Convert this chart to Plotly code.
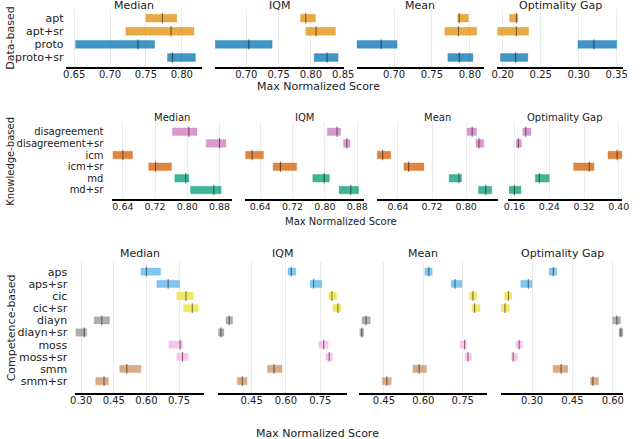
import plotly.graph_objects as go

# ---- data -------------------------------------------------------------
metrics = ["Median", "IQM", "Mean", "Optimality Gap"]
axis_title = "Max Normalized Score"

# Data-based
data_methods = ["apt", "apt+sr", "proto", "proto+sr"]
data_colors = ["#DE8F05", "#DE8F05", "#0173B2", "#0173B2"]
data_median_lo = [0.750, 0.722, 0.652, 0.780]
data_median_pt = [0.773, 0.785, 0.739, 0.787]
data_median_hi = [0.793, 0.817, 0.762, 0.819]
data_iqm_lo = [0.784, 0.792, 0.652, 0.805]
data_iqm_pt = [0.792, 0.808, 0.704, 0.825]
data_iqm_hi = [0.807, 0.838, 0.740, 0.842]
data_mean_lo = [0.784, 0.767, 0.651, 0.771]
data_mean_pt = [0.786, 0.785, 0.683, 0.786]
data_mean_hi = [0.798, 0.809, 0.704, 0.804]
data_gap_lo = [0.209, 0.193, 0.299, 0.197]
data_gap_pt = [0.218, 0.218, 0.320, 0.217]
data_gap_hi = [0.220, 0.234, 0.350, 0.233]
data_ticks = [[0.65, 0.70, 0.75, 0.80], [0.70, 0.75, 0.80, 0.85],
              [0.70, 0.75, 0.80], [0.20, 0.25, 0.30, 0.35]]

# Knowledge-based
know_methods = ["disagreement", "disagreement+sr", "icm", "icm+sr", "md", "md+sr"]
know_colors = ["#CC78BC", "#CC78BC", "#D55E00", "#D55E00", "#029E73", "#029E73"]
know_median_lo = [0.763, 0.847, 0.615, 0.704, 0.769, 0.808]
know_median_pt = [0.804, 0.880, 0.640, 0.721, 0.796, 0.866]
know_median_hi = [0.824, 0.896, 0.664, 0.761, 0.804, 0.884]
know_iqm_lo = [0.806, 0.846, 0.603, 0.672, 0.770, 0.835]
know_iqm_pt = [0.830, 0.854, 0.620, 0.690, 0.798, 0.864]
know_iqm_hi = [0.839, 0.862, 0.648, 0.730, 0.811, 0.883]
know_mean_lo = [0.802, 0.823, 0.591, 0.654, 0.760, 0.829]
know_mean_pt = [0.814, 0.830, 0.604, 0.665, 0.783, 0.846]
know_mean_hi = [0.824, 0.841, 0.623, 0.701, 0.789, 0.860]
know_gap_lo = [0.179, 0.164, 0.375, 0.296, 0.208, 0.148]
know_gap_pt = [0.186, 0.169, 0.396, 0.332, 0.217, 0.160]
know_gap_hi = [0.198, 0.176, 0.408, 0.343, 0.240, 0.175]
know_ticks = [[0.64, 0.72, 0.80, 0.88], [0.64, 0.72, 0.80, 0.88],
              [0.64, 0.72, 0.80], [0.16, 0.24, 0.32, 0.40]]

# Competence-based
comp_methods = ["aps", "aps+sr", "cic", "cic+sr", "diayn", "diayn+sr",
                "moss", "moss+sr", "smm", "smm+sr"]
comp_colors = ["#56B4E9", "#56B4E9", "#ECE133", "#ECE133", "#949494", "#949494",
               "#FBAFE4", "#FBAFE4", "#CA9161", "#CA9161"]
comp_median_lo = [0.575, 0.648, 0.740, 0.770, 0.360, 0.275, 0.703, 0.740, 0.477, 0.367]
comp_median_pt = [0.600, 0.700, 0.782, 0.811, 0.395, 0.314, 0.755, 0.766, 0.510, 0.405]
comp_median_hi = [0.665, 0.753, 0.815, 0.838, 0.430, 0.325, 0.766, 0.792, 0.575, 0.425]
comp_iqm_lo = [0.609, 0.706, 0.787, 0.805, 0.338, 0.305, 0.744, 0.775, 0.519, 0.387]
comp_iqm_pt = [0.623, 0.721, 0.801, 0.827, 0.352, 0.316, 0.765, 0.789, 0.548, 0.409]
comp_iqm_hi = [0.643, 0.757, 0.822, 0.841, 0.367, 0.329, 0.785, 0.803, 0.583, 0.430]
comp_mean_lo = [0.606, 0.706, 0.775, 0.785, 0.367, 0.357, 0.740, 0.759, 0.560, 0.444]
comp_mean_pt = [0.621, 0.721, 0.789, 0.795, 0.382, 0.366, 0.757, 0.770, 0.584, 0.461]
comp_mean_hi = [0.634, 0.747, 0.803, 0.816, 0.398, 0.373, 0.765, 0.784, 0.612, 0.478]
comp_gap_lo = [0.364, 0.258, 0.197, 0.185, 0.600, 0.623, 0.240, 0.224, 0.378, 0.517]
comp_gap_pt = [0.379, 0.286, 0.212, 0.199, 0.615, 0.630, 0.252, 0.230, 0.408, 0.526]
comp_gap_hi = [0.391, 0.300, 0.225, 0.215, 0.629, 0.639, 0.264, 0.246, 0.433, 0.547]
comp_ticks = [[0.30, 0.45, 0.60, 0.75], [0.45, 0.60, 0.75],
              [0.45, 0.60, 0.75], [0.30, 0.45, 0.60]]

# ---- layout (pixel geometry of the 640x439 page) ------------------------
W, H = 640, 439
FONT = "DejaVu Sans"


def hex_rgba(c, a):
    c = c.lstrip("#")
    return "rgba(%d,%d,%d,%s)" % (int(c[0:2], 16), int(c[2:4], 16), int(c[4:6], 16), a)


groups = [
    dict(name="Data-based", methods=data_methods, colors=data_colors,
         panels=[(data_median_lo, data_median_pt, data_median_hi),
                 (data_iqm_lo, data_iqm_pt, data_iqm_hi),
                 (data_mean_lo, data_mean_pt, data_mean_hi),
                 (data_gap_lo, data_gap_pt, data_gap_hi)],
         ticks=data_ticks,
         xpix=[(62, 202), (215, 347), (360, 490), (504, 633)],
         xranges=[(0.638, 0.8285), (0.6515, 0.851), (0.6506, 0.818), (0.1927, 0.3585)],
         ypix=(9, 66.7), yrange=(3.7, -0.7), bar=0.6, mark=7.5, standoff=1,
         font=11, tickfont=10, title_y=5.7, label_x=6, xtitle=(321, 86)),
    dict(name="Knowledge-based", methods=know_methods, colors=know_colors,
         panels=[(know_median_lo, know_median_pt, know_median_hi),
                 (know_iqm_lo, know_iqm_pt, know_iqm_hi),
                 (know_mean_lo, know_mean_pt, know_mean_hi),
                 (know_gap_lo, know_gap_pt, know_gap_hi)],
         ticks=know_ticks,
         xpix=[(110, 232), (246, 368), (381, 505), (515, 632)],
         xranges=[(0.614, 0.910), (0.603, 0.8975), (0.591, 0.875), (0.145, 0.4077)],
         ypix=(122.4, 199.3), yrange=(5.8, -0.8), bar=0.65, mark=7.5, standoff=8,
         font=10, tickfont=9.5, title_y=117.7, label_x=6, xtitle=(344, 221)),
    dict(name="Competence-based", methods=comp_methods, colors=comp_colors,
         panels=[(comp_median_lo, comp_median_pt, comp_median_hi),
                 (comp_iqm_lo, comp_iqm_pt, comp_iqm_hi),
                 (comp_mean_lo, comp_mean_pt, comp_mean_hi),
                 (comp_gap_lo, comp_gap_pt, comp_gap_hi)],
         ticks=comp_ticks,
         xpix=[(72, 204), (218, 350), (363, 494), (508, 633)],
         xranges=[(0.273, 0.866), (0.3025, 0.866), (0.357, 0.844), (0.185, 0.6385)],
         ypix=(261.7, 393.3), yrange=(10.0, -0.82), bar=0.6, mark=7, standoff=7,
         font=11, tickfont=10, title_y=253.3, label_x=7, xtitle=(320, 433)),
]

fig = go.Figure()
layout = {}
annotations = []
n = 0
for g in groups:
    y0, y1 = g["ypix"]
    for k, (lo, pt, hi) in enumerate(g["panels"]):
        n += 1
        xs = "" if n == 1 else str(n)
        xa, ya = "x" + xs, "y" + xs
        widths = [h - l for l, h in zip(lo, hi)]
        fig.add_trace(go.Bar(
            y=g["methods"], x=widths, base=lo, orientation="h",
            width=g["bar"],
            marker=dict(color=[hex_rgba(c, 0.75) for c in g["colors"]],
                        line=dict(width=0.8, color=[hex_rgba(c, 0.35) for c in g["colors"]])),
            xaxis=xa, yaxis=ya, showlegend=False, hoverinfo="skip"))
        fig.add_trace(go.Scatter(
            y=g["methods"], x=pt, mode="markers",
            marker=dict(symbol="line-ns", size=g["mark"],
                        line=dict(width=1.1, color="rgba(0,0,0,0.5)")),
            xaxis=xa, yaxis=ya, showlegend=False, hoverinfo="skip"))
        px0, px1 = g["xpix"][k]
        layout["xaxis" + xs] = dict(
            domain=[px0 / W, px1 / W], anchor=ya, range=list(g["xranges"][k]),
            tickmode="array", tickvals=g["ticks"][k],
            ticktext=["%.2f" % t for t in g["ticks"][k]],
            showgrid=True, gridcolor="#ebebeb", gridwidth=1, zeroline=False,
            showline=True, linecolor="black", linewidth=1.6, ticks="",
            ticklabelstandoff=-3,
            tickfont=dict(family=FONT, size=g["tickfont"], color="#222"))
        layout["yaxis" + xs] = dict(
            domain=[1 - y1 / H, 1 - y0 / H], anchor=xa, type="category",
            categoryorder="array", categoryarray=g["methods"],
            tickmode="array", tickvals=g["methods"], ticktext=g["methods"],
            range=list(g["yrange"]), showgrid=False, zeroline=False,
            showline=False, ticks="", showticklabels=(k == 0),
            ticklabelstandoff=g["standoff"],
            tickfont=dict(family=FONT, size=g["font"], color="#222"))
        annotations.append(dict(
            text=metrics[k], x=(px0 + px1) / 2 / W, y=1 - g["title_y"] / H,
            xref="paper", yref="paper", showarrow=False, xanchor="center",
            yanchor="middle", font=dict(family=FONT, size=g["font"], color="#222")))
    annotations.append(dict(
        text=g["name"], x=g["label_x"] / W, y=1 - (y0 + y1) / 2 / H, textangle=-90,
        xref="paper", yref="paper", showarrow=False, xanchor="center",
        yanchor="middle", font=dict(family=FONT, size=g["font"], color="#222")))
    annotations.append(dict(
        text=axis_title, x=g["xtitle"][0] / W, y=1 - g["xtitle"][1] / H,
        xref="paper", yref="paper", showarrow=False, xanchor="center",
        yanchor="middle", font=dict(family=FONT, size=g["font"], color="#222")))

fig.update_layout(
    width=W, height=H, margin=dict(l=0, r=0, t=0, b=0),
    paper_bgcolor="white", plot_bgcolor="white",
    barmode="overlay", annotations=annotations, **layout)

# drop the browser's default 8px body margin so the figure sits at the page corner
fig.write_html("out.html", config={"displayModeBar": False},
               post_script="document.body.style.margin='0';")
